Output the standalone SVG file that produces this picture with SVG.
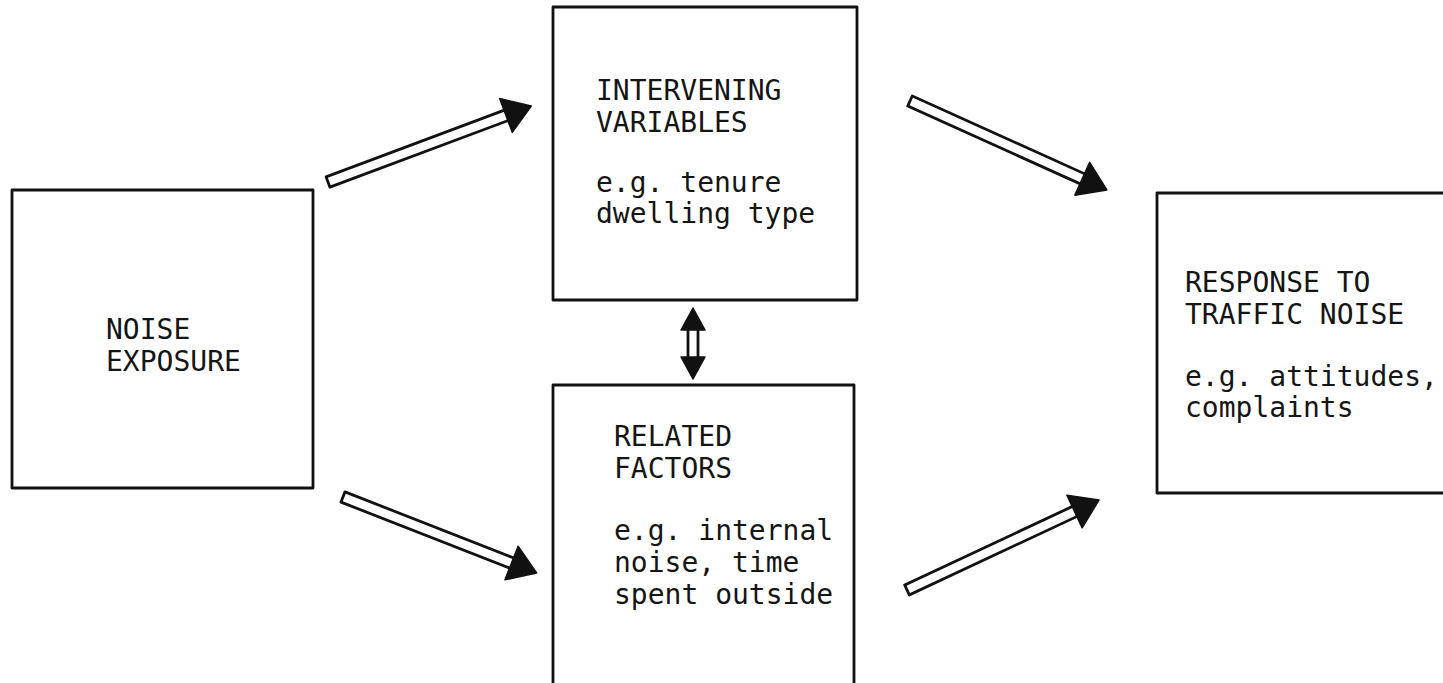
<svg xmlns="http://www.w3.org/2000/svg" width="1443" height="683" viewBox="0 0 1443 683">
  <style>
    .box { fill: none; stroke: #111; stroke-width: 2.8; stroke-linejoin: round; }
    .label { font-family: "DejaVu Sans Mono", "Liberation Mono", monospace; font-size: 28px; fill: #151515; }
    .shaft { fill: #fff; stroke: #111; stroke-width: 2.8; stroke-linejoin: round; }
    .head { fill: #111; stroke: #111; stroke-width: 1.5; stroke-linejoin: round; }
  </style>
  <rect width="1443" height="683" fill="#fff"/>

  <!-- Boxes -->
  <g id="node-noise-exposure">
    <rect class="box" x="12" y="190" width="301" height="298"/>
    <text class="label" x="106" y="339">NOISE</text>
    <text class="label" x="106" y="371">EXPOSURE</text>
  </g>

  <g id="node-intervening-variables">
    <rect class="box" x="553" y="7" width="304" height="293"/>
    <text class="label" x="596" y="100">INTERVENING</text>
    <text class="label" x="596" y="132">VARIABLES</text>
    <text class="label" x="596" y="192">e.g. tenure</text>
    <text class="label" x="596" y="223">dwelling type</text>
  </g>

  <g id="node-related-factors">
    <rect class="box" x="553" y="385" width="301" height="310"/>
    <text class="label" x="614" y="446">RELATED</text>
    <text class="label" x="614" y="478">FACTORS</text>
    <text class="label" x="614" y="540">e.g. internal</text>
    <text class="label" x="614" y="572">noise, time</text>
    <text class="label" x="614" y="604">spent outside</text>
  </g>

  <g id="node-response">
    <rect class="box" x="1157" y="193" width="300" height="300"/>
    <text class="label" x="1185" y="292">RESPONSE TO</text>
    <text class="label" x="1185" y="324">TRAFFIC NOISE</text>
    <text class="label" x="1185" y="386">e.g. attitudes,</text>
    <text class="label" x="1185" y="417">complaints</text>
  </g>

  <!-- Connectors: hollow shafts with solid heads -->
  <g id="connectors">
    <g transform="translate(328,182) rotate(-20.5)">
      <rect class="shaft" x="0" y="-5.5" width="194" height="11"/>
      <polygon class="head" points="190,-18 217,0 190,18"/>
    </g>
    <g transform="translate(910,101) rotate(24.3)">
      <rect class="shaft" x="0" y="-5.5" width="193" height="11"/>
      <polygon class="head" points="189,-18 216,0 189,18"/>
    </g>
    <g transform="translate(343,497) rotate(21.4)">
      <rect class="shaft" x="0" y="-5.5" width="185" height="11"/>
      <polygon class="head" points="181,-18 208,0 181,18"/>
    </g>
    <g transform="translate(907,590) rotate(-25.1)">
      <rect class="shaft" x="0" y="-5.5" width="189" height="11"/>
      <polygon class="head" points="185,-18 212,0 185,18"/>
    </g>
    <g id="link-intervening-related">
      <rect class="shaft" x="688" y="326" width="10" height="34"/>
      <polygon class="head" points="693,308 705,330 681,330"/>
      <polygon class="head" points="681,357 705,357 693,379"/>
    </g>
  </g>
</svg>
